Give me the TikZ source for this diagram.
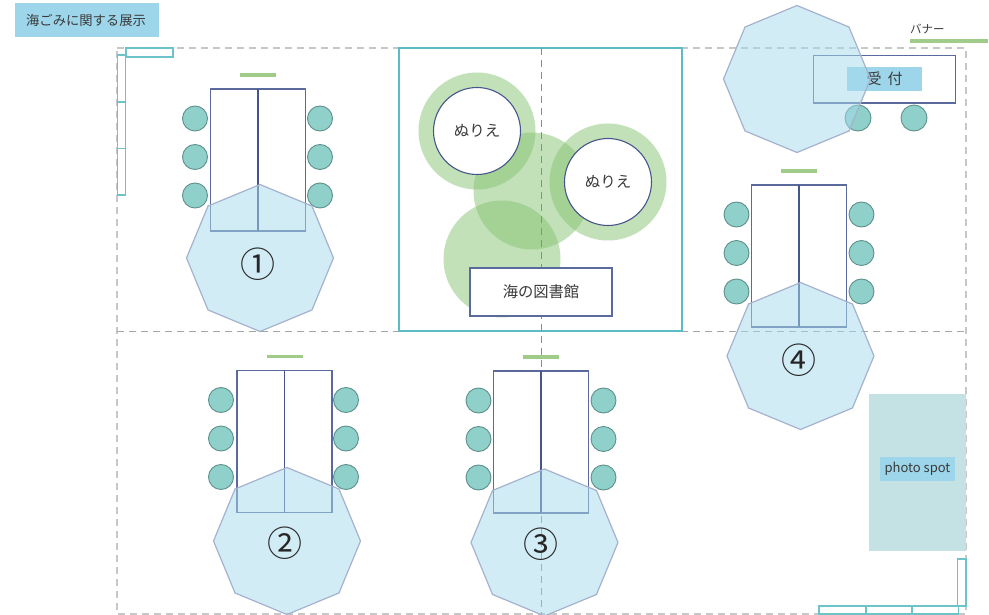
\documentclass[tikz,border=0pt]{standalone}
\usepackage{fontspec}
\setmainfont{Noto Sans CJK JP}
\usetikzlibrary{shapes.geometric}
\definecolor{teal1}{HTML}{5DBBC6}
\definecolor{shelf}{HTML}{6CC4CA}
\definecolor{navy}{HTML}{5A6A9C}
\definecolor{navyd}{HTML}{46568C}
\definecolor{chair}{HTML}{8FD0CA}
\definecolor{chairl}{HTML}{5F918C}
\definecolor{barg}{HTML}{A0CC8A}
\definecolor{octf}{HTML}{A6DAEE}
\definecolor{octl}{HTML}{A5B2CE}
\definecolor{label}{HTML}{9DD6EA}
\definecolor{photo}{HTML}{C4E2E3}
\definecolor{gcirc}{HTML}{86C472}
\definecolor{txt}{HTML}{3A3A3A}
\tikzset{
  guide/.style={draw=#1,line width=1.2pt,dash pattern=on 7pt off 5pt},
  guide/.default={black!22},
  shelfbox/.style={draw=shelf,line width=1.3pt,fill=white,inner sep=0pt,outer sep=0pt,rectangle},
  tablebox/.style={draw=navy,line width=1.2pt,fill=white,inner sep=0pt,outer sep=0pt,minimum width=95pt,minimum height=142pt},
  midline/.style={draw=navyd,line width=1.4pt},
  seat/.style={circle,draw=chairl,line width=.9pt,fill=chair,minimum size=25pt,inner sep=0pt,outer sep=0pt},
  bannerbar/.style={draw=none,fill=barg,inner sep=0pt,outer sep=0pt,minimum height=3.5pt},
  octa/.style={regular polygon,regular polygon sides=8,shape border rotate=22.5,minimum size=147pt,inner sep=0pt,outer sep=0pt,draw=octl,line width=1.2pt,fill=octf,fill opacity=.5},
  tag/.style={fill=label,inner sep=0pt,outer sep=0pt,text=txt},
  bigno/.style={inner sep=0pt,font=\fontsize{35}{35}\selectfont,text=black!85},
  halo/.style={circle,fill=gcirc,fill opacity=.5,minimum size=117pt,inner sep=0pt,outer sep=0pt},
  paint/.style={circle,fill=white,draw=navyd,line width=1.1pt,minimum size=87pt,inner sep=0pt,outer sep=0pt,text=txt,font=\fontsize{15.5}{15.5}\selectfont},
  whitebox/.style={draw=navy,line width=1.2pt,fill=white,inner sep=0pt,outer sep=0pt,text=txt}
}
% #1 prefix, #2 table centre x, #3 table top y, #4 seat centre x
\newcommand\tablegroup[4]{%
  \node[tablebox] (#1t) at (#2,#3+71) {};
  \draw[midline] (#1t.north) -- (#1t.south);
  \node[bannerbar,minimum width=36pt] (#1b) at (#2,#3-14) {};
  \foreach \k/\d in {1/29.5,2/68,3/106.5}{
    \node[seat] (#1l\k) at (#4-62.5,#3+\d) {};
    \node[seat] (#1r\k) at (#4+62.5,#3+\d) {};
  }%
}
\begin{document}
\begin{tikzpicture}[x=1pt,y=-1pt]
\useasboundingbox[fill=white] (0,0) rectangle (989,615);
% guides
\coordinate (gTL) at (117,48); \coordinate (gTR) at (966,48);
\coordinate (gBL) at (117,614); \coordinate (gBR) at (966,614);
\coordinate (gML) at (117,331.5); \coordinate (gMR) at (966,331.5);
\coordinate (gVT) at (541.5,48); \coordinate (gVB) at (541.5,615);
\draw[guide] (gTL) -- (gTR) -- (gBR) -- (gBL) -- cycle;
\draw[guide=black!35] (gML) -- (gMR);
% photo spot
\node[fill=photo,inner sep=0pt,outer sep=0pt,minimum width=97pt,minimum height=157pt] (photoarea) at (917.5,472) {};
\node[tag,minimum width=75pt,minimum height=24.5pt,font=\fontsize{13}{13}\selectfont] (photolabel) at (917.5,469) {photo spot};
% shelves
\node[shelfbox,minimum width=47pt,minimum height=9pt] (s1) at (149.5,52.5) {};
\node[shelfbox,minimum width=8pt,minimum height=47pt] (s2) at (121.5,78.5) {};
\node[shelfbox,minimum width=8pt,minimum height=46.5pt] (s3) at (121.5,125.25) {};
\node[shelfbox,minimum width=8pt,minimum height=46.5pt] (s4) at (121.5,171.75) {};
\node[shelfbox,minimum width=8.5pt,minimum height=47pt] (s5) at (961.75,582.5) {};
\node[shelfbox,minimum width=47pt,minimum height=8pt] (s6) at (842.5,610) {};
\node[shelfbox,minimum width=46pt,minimum height=8pt] (s7) at (889,610) {};
\node[shelfbox,minimum width=46.5pt,minimum height=8pt] (s8) at (935.25,610) {};
% central square
\node[draw=teal1,line width=2.2pt,fill=white,inner sep=0pt,outer sep=0pt,minimum size=283pt] (center) at (540.5,189.5) {};
\node[halo] (h3) at (532,191) {};
\node[halo] (h4) at (502,259) {};
\node[halo] (h1) at (477,131) {};
\node[halo] (h2) at (608,182) {};
\draw[guide=black!45] (gVT) -- (gVB);
\node[paint] (p1) at (477,131) {ぬりえ};
\node[paint] (p2) at (608,182) {ぬりえ};
\node[whitebox,minimum width=142pt,minimum height=48pt,font=\fontsize{15.3}{15.3}\selectfont] (library) at (541,292) {海の図書館};
% tables
\tablegroup{a}{258}{89}{257.5}
\tablegroup{b}{284.5}{370.5}{283.5}
\tablegroup{c}{541}{371}{541}
\tablegroup{d}{799}{185}{799}
% reception
\node[draw=navy,line width=1.2pt,fill=white,inner sep=0pt,outer sep=0pt,minimum width=142pt,minimum height=47.5pt] (desk) at (884.5,79.25) {};
\node[tag,minimum width=75pt,minimum height=24pt,font=\fontsize{15}{15}\selectfont] (desklabel) at (884.5,79) {受\hspace{6pt}付};
\node[seat,minimum size=26pt] (e1) at (858,118) {};
\node[seat,minimum size=26pt] (e2) at (914,118) {};
% banner
\node[bannerbar,minimum width=78pt] (banner) at (949,41) {};
\node[inner sep=0pt,text=txt,font=\fontsize{11.5}{11.5}\selectfont,anchor=west] (bannertext) at (910,29.5) {バナー};
% octagons
\node[octa] (o0) at (797,79) {};
\node[octa] (o1) at (260,258) {};
\node[octa] (o2) at (287,541) {};
\node[octa] (o3) at (544.5,542.5) {};
\node[octa] (o4) at (800.5,356) {};
\node[bigno] (n1) at (258,264) {①};
\node[bigno] (n2) at (285,543) {②};
\node[bigno] (n3) at (540.5,544) {③};
\node[bigno] (n4) at (799,360) {④};
% title
\node[tag,minimum width=144.5pt,minimum height=34.5pt,font=\fontsize{13.3}{13.3}\selectfont] (title) at (86.75,20.25) {\hspace{-1.5pt}海ごみに関する展示};
\end{tikzpicture}
\end{document}
